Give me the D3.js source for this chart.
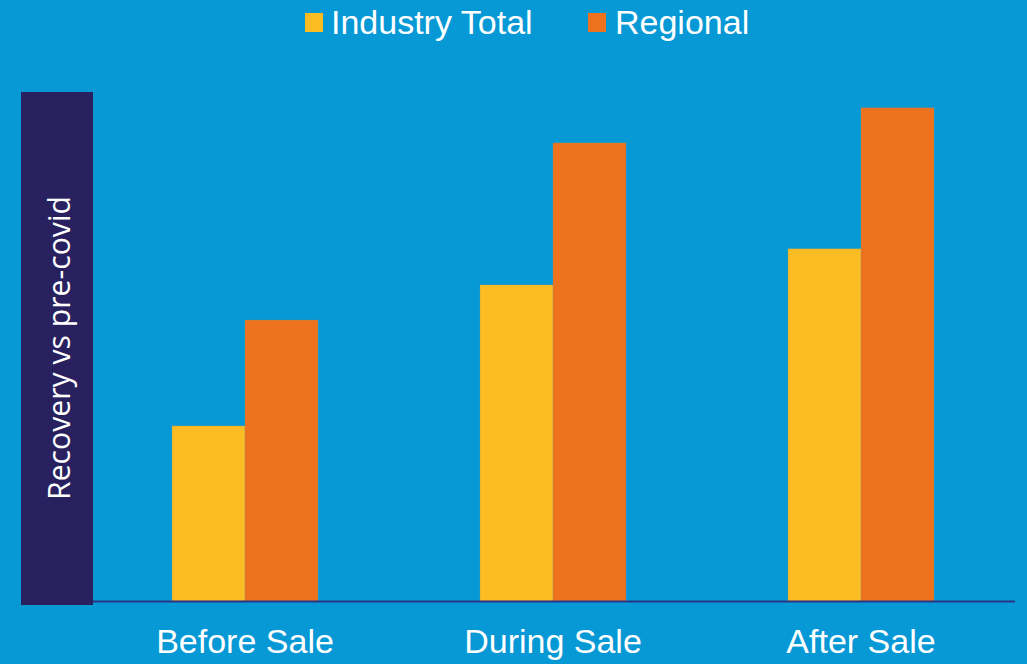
<!DOCTYPE html>
<html>
<head>
<meta charset="utf-8">
<script src="https://cdn.jsdelivr.net/npm/d3@7"></script>
<style>
  html, body { margin: 0; padding: 0; background: #0798d6; }
  svg { display: block; }
</style>
</head>
<body>
<svg id="chart" width="1027" height="664"></svg>
<script>
// Categories and series (recovery index, % of pre-covid level)
const categories = ["Before Sale", "During Sale", "After Sale"];
const seriesNames = ["Industry Total", "Regional"];
const industryTotal = [34.4, 62.1, 69.2];
const regional = [55.2, 90.0, 96.9];
const yAxisTitle = "Recovery vs pre-covid";

const colors = { "Industry Total": "#fbbc24", "Regional": "#ee721e" };

const W = 1027, H = 664;
const svg = d3.select("#chart");

svg.append("rect").attr("width", W).attr("height", H).attr("fill", "#0798d6");

const baseY = 601, topY = 92;
const x0 = d3.scaleBand().domain(categories).range([91, 1015]).paddingInner(0.526).paddingOuter(0.263);
const x1 = d3.scaleBand().domain(seriesNames).range([0, x0.bandwidth()]).padding(0);
const y = d3.scaleLinear().domain([0, 100]).range([baseY, topY]);

const rows = categories.map((c, i) => ({
  category: c,
  values: [
    { name: "Industry Total", value: industryTotal[i] },
    { name: "Regional", value: regional[i] }
  ]
}));

// Y-axis title panel
svg.append("rect")
  .attr("x", 21).attr("y", 92).attr("width", 72).attr("height", 513)
  .attr("fill", "#29215f");

const yt = svg.append("text")
  .attr("transform", "translate(58,348) rotate(-90)")
  .attr("text-anchor", "middle")
  .attr("dominant-baseline", "central")
  .attr("fill", "#ffffff")
  .style("font-family", "'Open Sans', 'Noto Sans', sans-serif")
  .style("font-size", "30px")
  .text(yAxisTitle);
const len = yt.node().getComputedTextLength();
yt.style("font-size", (30 * 304 / len).toFixed(2) + "px");

// Bars
const groups = svg.append("g").selectAll("g")
  .data(rows).join("g")
  .attr("transform", d => `translate(${x0(d.category)},0)`);

groups.selectAll("rect")
  .data(d => d.values).join("rect")
  .attr("x", d => x1(d.name))
  .attr("y", d => y(d.value))
  .attr("width", x1.bandwidth())
  .attr("height", d => baseY - y(d.value))
  .attr("fill", d => colors[d.name])
  .attr("stroke", "#8a9a7a")
  .attr("stroke-opacity", 0.35)
  .attr("stroke-width", 0.8);

// Baseline
svg.append("line")
  .attr("x1", 93).attr("x2", 1015)
  .attr("y1", baseY + 0.5).attr("y2", baseY + 0.5)
  .attr("stroke", "#2a3585").attr("stroke-width", 2);

// Category labels
const xAxis = d3.axisBottom(x0).tickSize(0).tickPadding(0);
const gx = svg.append("g").attr("transform", `translate(0,${baseY})`).call(xAxis);
gx.select(".domain").remove();
gx.selectAll("text")
  .attr("y", 52)
  .attr("dy", 0)
  .attr("fill", "#ffffff")
  .style("font-family", "'Liberation Sans', Arial, sans-serif")
  .style("font-size", "34px");

// Legend
const legendItems = [
  { name: "Industry Total", sx: 305, tx: 331 },
  { name: "Regional", sx: 588, tx: 615 }
];
const lg = svg.append("g");
legendItems.forEach(it => {
  lg.append("rect").attr("x", it.sx).attr("y", 13).attr("width", 18).attr("height", 19)
    .attr("fill", colors[it.name]);
  lg.append("text").attr("x", it.tx).attr("y", 34)
    .attr("fill", "#ffffff")
    .style("font-family", "'Liberation Sans', Arial, sans-serif")
    .style("font-size", "34px")
    .text(it.name);
});
</script>
</body>
</html>
